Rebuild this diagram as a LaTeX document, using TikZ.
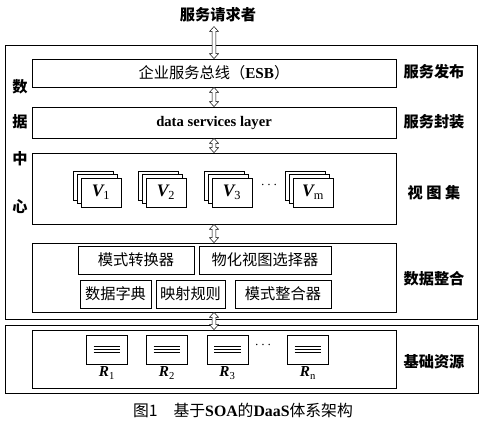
\documentclass[tikz,border=0pt]{standalone}
\usepackage{fontspec}
\setmainfont{Liberation Serif}
\newfontfamily\cjk{Noto Sans CJK SC}
\usetikzlibrary{calc,shadows}
\tikzset{
  layer/.style = {draw, minimum width=10.92cm, inner sep=0pt,
    font=\cjk\fontsize{13}{15}\selectfont},
  part/.style = {draw, minimum height=0.84cm, inner sep=0pt,
    font=\cjk\fontsize{13}{15}\selectfont},
  sidelabel/.style = {font=\cjk\bfseries\fontsize{13}{15}\selectfont},
  viewbox/.style = {draw, fill=white, minimum width=1.2cm, minimum height=0.87cm,
    font=\bfseries\itshape\fontsize{15}{17}\selectfont,
    double copy shadow={shadow xshift=-3.4pt, shadow yshift=3pt, draw, fill=white}},
  resbox/.style = {draw, minimum width=1.23cm, minimum height=0.87cm,
    path picture={\foreach \d in {-2.4,0,2.4}
      \draw ([xshift=-0.4cm,yshift=\d pt]path picture bounding box.center) -- ++(0.8cm,0);}},
  link/.style = {draw, fill=white, thin, line join=miter}
}

\begin{document}
\begin{tikzpicture}[x=0.03cm,y=-0.03cm,semithick]
  \useasboundingbox (0,0) rectangle (487,428);
  % outer frames
  \draw (5,45) rectangle (477,319);
  \draw (5,325) rectangle (478,393);
  \node (user) at (218,15) [sidelabel] {服务请求者};
  % layers
  \node (esb) at (214,73) [layer, minimum height=0.84cm] {企业服务总线（{\rmfamily\bfseries ESB}）};
  \node (dsl) at (214,122.5) [layer, minimum height=0.93cm, font=\bfseries\fontsize{12.5}{15}\selectfont] {data services layer};
  \node (views) at (214,188.5) [layer, minimum height=2.13cm] {};
  \node (integ) at (214,277.5) [layer, minimum height=2.07cm] {};
  \node (res) at (214,359) [layer, minimum height=1.74cm] {};
  % left and right labels
  \foreach \c/\y [count=\k] in {数/87,据/122,中/159,心/207}
    \node (dc\k) at (20,\y) [sidelabel] {\c};
  \node (pub) at (434,72) [sidelabel] {服务发布};
  \node (wrap) at (434,122) [sidelabel] {服务封装};
  \node (vset) at (434,193) [sidelabel] {视~图~集};
  \node (merge) at (434,279) [sidelabel] {数据整合};
  \node (base) at (434,362) [sidelabel] {基础资源};
  % views
  \foreach \x/\i in {101/1,166/2,232/3,313/m}
    \node (v\i) at (\x,192.5) [viewbox] {V\textsubscript{\normalfont\i}};
  \node (vdots) at (269,185) {\large$\cdots$};
  % integration parts
  \node (conv) at (136,260) [part, minimum width=3.48cm] {模式转换器};
  \node (mat) at (265,260) [part, minimum width=3.96cm] {物化视图选择器};
  \node (dict) at (115.5,294) [part, minimum width=2.13cm] {数据字典};
  \node (map) at (190.5,294) [part, minimum width=2.07cm] {映射规则};
  \node (integr) at (283,294) [part, minimum width=2.88cm] {模式整合器};
  % resources
  \foreach \x/\i in {107/1,167/2,227.5/3,308/n} {
    \node (r\i) at (\x,349.5) [resbox] {};
    \node (rl\i) at (\x,373) [font=\bfseries\itshape\fontsize{13}{15}\selectfont] {R\textsubscript{\normalfont\i}};
  }
  \node (rdots) at (263,345) {\large$\cdots$};
  % connectors (hollow two-way arrows)
  \foreach \a/\b in {user/esb,esb/dsl,dsl/views,views/integ,integ/res}
    \draw[link] let \p1=(\a.south), \p2=(\b.north) in
      (\x2,\y1) -- (\x2+3.8pt,\y1-4.2pt) -- (\x2+1.6pt,\y1-4.2pt)
      -- (\x2+1.6pt,\y2+4.2pt) -- (\x2+3.8pt,\y2+4.2pt) -- (\x2,\y2)
      -- (\x2-3.8pt,\y2+4.2pt) -- (\x2-1.6pt,\y2+4.2pt)
      -- (\x2-1.6pt,\y1-4.2pt) -- (\x2-3.8pt,\y1-4.2pt) -- cycle;
  \node (cap) at (243,410) [font=\cjk\fontsize{13.5}{16}\selectfont] {图1\quad 基于{\rmfamily\bfseries SOA}的{\rmfamily\bfseries DaaS}体系架构};
\end{tikzpicture}
\end{document}
